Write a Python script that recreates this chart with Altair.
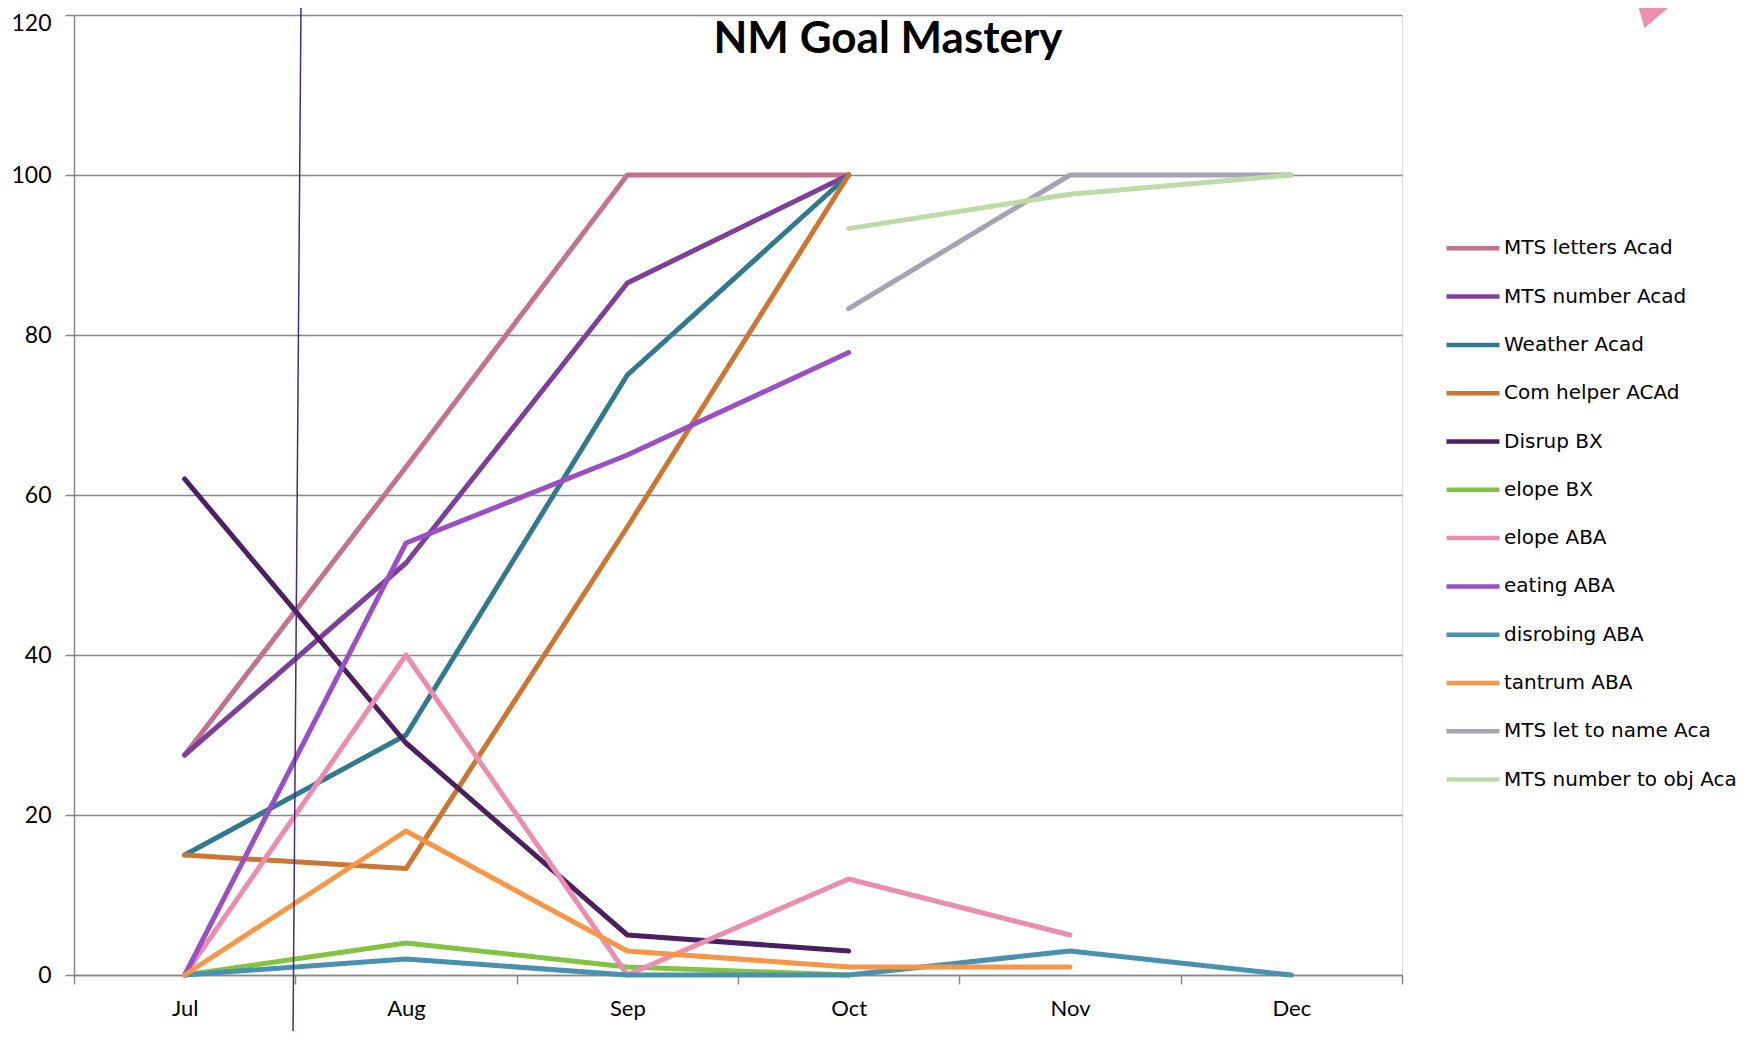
import altair as alt
import pandas as pd

months = ["Jul", "Aug", "Sep", "Oct", "Nov", "Dec"]

series_names = [
    "MTS letters Acad", "MTS number Acad", "Weather Acad", "Com helper ACAd",
    "Disrup BX", "elope BX", "elope ABA", "eating ABA", "disrobing ABA",
    "tantrum ABA", "MTS let to name Aca", "MTS number to obj Aca",
]

mts_letters = [27.5, 63.5, 100, 100, None, None]
mts_number = [27.5, 51.5, 86.5, 100, None, None]
weather = [15, 30, 75, 100, None, None]
com_helper = [15, 13.3, 56, 100, None, None]
disrup_bx = [62, 29, 5, 3, None, None]
elope_bx = [0, 4, 1, 0, None, None]
elope_aba = [0, 40, 0, 12, 5, None]
eating_aba = [0, 54, 65, 77.8, None, None]
disrobing_aba = [0, 2, 0, 0, 3, 0]
tantrum_aba = [0, 18, 3, 1, 1, None]
mts_let_name = [None, None, None, 83.3, 100, 100]
mts_num_obj = [None, None, None, 93.3, 97.6, 100]

series_values = [mts_letters, mts_number, weather, com_helper, disrup_bx, elope_bx,
                 elope_aba, eating_aba, disrobing_aba, tantrum_aba, mts_let_name, mts_num_obj]

colors = ["#C4728E", "#7E3F9A", "#31798F", "#CB7733", "#4C1E62", "#82C341",
          "#EB8DAE", "#9A4FC2", "#4991B0", "#F79646", "#A7A1B5", "#BCDBA6"]

y_ticks = [0, 20, 40, 60, 80, 100, 120]

rows = []
for name, vals in zip(series_names, series_values):
    for m, v in zip(months, vals):
        if v is not None:
            rows.append({"series": name, "month": m, "value": v})
df = pd.DataFrame(rows)

W, H = 1328, 960

x = alt.X("month:N", sort=months,
          scale=alt.Scale(type="band", domain=months, paddingInner=0, paddingOuter=0),
          bandPosition=0.5,
          axis=alt.Axis(title=None, labelAngle=0, tickBand="extent", grid=False,
                        domainColor="#888888", domainWidth=1.5, tickColor="#888888",
                        tickWidth=1.5, tickSize=9, labelFont="Lato", labelFontSize=22,
                        labelColor="#000000", labelPadding=14))
y = alt.Y("value:Q",
          scale=alt.Scale(domain=[0, 120], nice=False, zero=True),
          axis=alt.Axis(title=None, values=y_ticks, grid=True,
                        gridColor="#888888", gridWidth=1.5, domainColor="#888888",
                        domainWidth=1.5, tickColor="#888888", tickWidth=1.5, tickSize=9,
                        labelFont="Lato", labelFontSize=23, labelColor="#000000",
                        labelPadding=14,
                        labelOffset={"condition": {"test": "datum.value == 120", "value": 8},
                                     "value": 0}))
color = alt.Color("series:N",
                  scale=alt.Scale(domain=series_names, range=colors),
                  legend=alt.Legend(title=None, orient="none", legendX=1370, legendY=209.3,
                                    symbolType="stroke", symbolSize=2809,
                                    symbolStrokeWidth=4.5, clipHeight=48, rowPadding=0.3,
                                    labelFont="DejaVu Sans", labelFontSize=20,
                                    labelColor="#000000", labelLimit=400, labelOffset=2))

lines = alt.Chart(df).mark_line(strokeWidth=5, strokeCap="round", strokeJoin="round").encode(
    x=x, y=y, color=color)

one = pd.DataFrame({"t": ["NM Goal Mastery"]})
title = alt.Chart(one).mark_text(font="Lato", fontWeight="bold", fontSize=44,
                                 align="center", baseline="alphabetic", color="#000000").encode(
    x=alt.value(814), y=alt.value(38), text="t:N")

annot = alt.Chart(one).mark_rule(color="#4B2A7B", strokeWidth=1.5).encode(
    x=alt.value(227), y=alt.value(-12), x2=alt.value(219), y2=alt.value(1021))

deco = alt.Chart(one).mark_point(
    shape="M -1 -0.683 L 1 -0.683 L -0.61 0.683 Z", filled=True, size=1681,
    color="#EF8FAE", opacity=1).encode(x=alt.value(1583), y=alt.value(-1))

chart = alt.layer(lines, title, annot, deco).properties(
    width=W, height=H, autosize="none",
    padding={"left": 66, "top": 7, "right": 352, "bottom": 56},
).configure_view(stroke=None).configure(background="#ffffff")

chart.save("out.html", embed_options={"renderer": "svg", "actions": False})
